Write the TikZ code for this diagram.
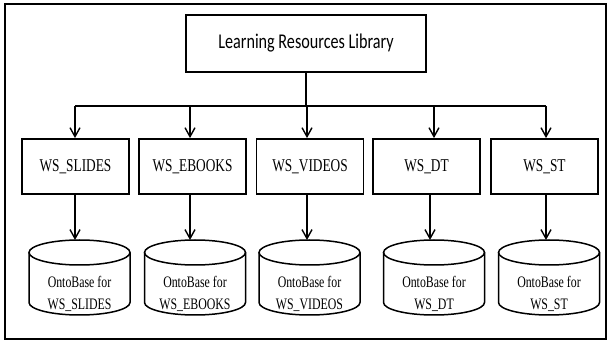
\documentclass[tikz,border=0pt]{standalone}
\usepackage{fontspec}
\setmainfont{Liberation Serif}
\newfontfamily\topfont{Carlito}[FakeStretch=0.77]
\newfontfamily\wsfont{Liberation Serif}[FakeStretch=0.74]
\usetikzlibrary{arrows.meta}
\newcommand\cylout[1]{%
  \draw[cylline] ([yshift=-12.5pt]#1.north west) -- ([yshift=12.5pt]#1.south west)
    arc[start angle=180,end angle=360,x radius=50.5pt,y radius=12.5pt]
    -- ([yshift=-12.5pt]#1.north east);
  \draw[cylline] ([yshift=-12.5pt]#1.north) ellipse[x radius=50.5pt,y radius=12.5pt];}
\begin{document}
\begin{tikzpicture}[x=1pt,y=1pt,
  topbox/.style={draw,line width=1.8pt,minimum width=240pt,minimum height=57pt,inner sep=0pt,font=\topfont\fontsize{21}{24}\selectfont},
  wsbox/.style={draw,line width=1.8pt,minimum width=107pt,minimum height=55pt,inner sep=0pt,font=\wsfont\fontsize{18}{20}\selectfont},
  cyl/.style={minimum width=101pt,minimum height=75pt,inner sep=0pt,outer sep=0pt},
  cylline/.style={line width=1.5pt},
  cyltext/.style={align=center,inner sep=0pt,font=\wsfont\fontsize{16}{22}\selectfont},
  arr/.style={line width=1.4pt,-{Straight Barb[length=9pt,width=10pt]}},
  link/.style={line width=1.4pt}]
\useasboundingbox (0,0) rectangle (609,342);
\draw[line width=2pt] (5,3) rectangle (606,338);
\node[topbox] (lib) at (306,298.5) {Learning Resources Library};
\node[wsbox] (b1) at (75.5,175.5) {WS\_SLIDES};
\node[wsbox] (b2) at (192.5,175.5) {WS\_EBOOKS};
\node[wsbox] (b3) at (310,175.5) {WS\_VIDEOS};
\node[wsbox] (b4) at (426.5,175.5) {WS\_DT};
\node[wsbox] (b5) at (544.5,175.5) {WS\_ST};
\node[cyl] (c1) at (79.5,64.5) {};
\node[cyl] (c2) at (195,64.5) {};
\node[cyl] (c3) at (309.5,64.5) {};
\node[cyl] (c4) at (434,64.5) {};
\node[cyl] (c5) at (549,64.5) {};
\cylout{c1}\cylout{c2}\cylout{c3}\cylout{c4}\cylout{c5}
\node[cyltext] (t1) at (79.5,48) {OntoBase for\\WS\_SLIDES};
\node[cyltext] (t2) at (195,48) {OntoBase for\\WS\_EBOOKS};
\node[cyltext] (t3) at (309.5,48) {OntoBase for\\WS\_VIDEOS};
\node[cyltext] (t4) at (434,48) {OntoBase for\\WS\_DT};
\node[cyltext] (t5) at (549,48) {OntoBase for\\WS\_ST};
\coordinate (bus) at (306,236);
\coordinate (j1) at (75,236);
\coordinate (j2) at (190,236);
\coordinate (j3) at (307,236);
\coordinate (j4) at (434,236);
\coordinate (j5) at (546,236);
\draw[link] (lib.south) -- (bus);
\draw[link] (j1) -- (j5);
\draw[arr] (j1) -- (j1 |- b1.north);
\draw[arr] (j2) -- (j2 |- b2.north);
\draw[arr] (j3) -- (j3 |- b3.north);
\draw[arr] (j4) -- (j4 |- b4.north);
\draw[arr] (j5) -- (j5 |- b5.north);
\coordinate (d1) at ([xshift=-0.5pt]b1.south);
\coordinate (d2) at ([xshift=-2.5pt]b2.south);
\coordinate (d3) at ([xshift=-3pt]b3.south);
\coordinate (d4) at ([xshift=3.5pt]b4.south);
\coordinate (d5) at ([xshift=1.5pt]b5.south);
\draw[arr] (d1) -- (d1 |- c1.north);
\draw[arr] (d2) -- (d2 |- c2.north);
\draw[arr] (d3) -- (d3 |- c3.north);
\draw[arr] (d4) -- (d4 |- c4.north);
\draw[arr] (d5) -- (d5 |- c5.north);
\end{tikzpicture}
\end{document}
